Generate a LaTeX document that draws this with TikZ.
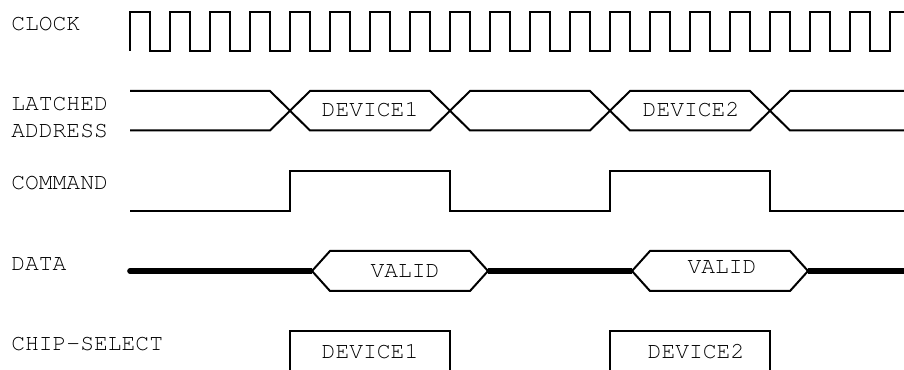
\documentclass[tikz,border=0pt]{standalone}
\usepackage[T1]{fontenc}
\usepackage{courier}
\begin{document}
\begin{tikzpicture}[x=0.75pt,y=-0.75pt,
  sig/.style={line width=1.5pt, line join=miter},
  bus/.style={line width=4.2pt, line cap=butt},
  lbl/.style={font=\fontsize{17.25}{20}\selectfont\ttfamily, inner sep=0pt}]
\useasboundingbox (0,0) rectangle (904,370);
\clip (0,0) rectangle (904,370);
% labels
\node[lbl,anchor=west] (clk) at (11,24) {CLOCK};
\node[lbl,anchor=west] (la1) at (11,103.5) {LATCHED};
\node[lbl,anchor=west] (la2) at (11,130.5) {ADDRESS};
\node[lbl,anchor=west] (cmd) at (11,183) {COMMAND};
\node[lbl,anchor=west] (dat) at (11,264.5) {DATA};
\node[lbl,anchor=west] (cs) at (11,343.5) {CHIP-SELECT};
% clock
\draw[sig] (130,51) \foreach \k in {0,...,19} { -- ++(0,-39) -- ++(20,0) -- ++(0,39) -- ++(20,0) };
% latched address
\draw[sig] (130,91) -- (270,91) -- (310,130.5) -- (430,130.5) -- (470,91) -- (590,91)
  -- (630,130.5) -- (750,130.5) -- (790,91) -- (910,91);
\draw[sig] (130,130.5) -- (270,130.5) -- (310,91) -- (430,91) -- (470,130.5) -- (590,130.5)
  -- (630,91) -- (750,91) -- (790,130.5) -- (910,130.5);
\node[lbl] (ad1) at (370,109) {DEVICE1};
\node[lbl] (ad2) at (691,109) {DEVICE2};
% command
\draw[sig] (130,211) -- (290,211) -- (290,171) -- (450,171) -- (450,211) -- (610,211)
  -- (610,171) -- (770,171) -- (770,211) -- (910,211);
% data
\draw[bus,line cap=round] (130,271) -- (140,271);
\draw[bus] (135,271) -- (312,271);
\draw[bus] (488,271) -- (632,271);
\draw[bus] (808,271) -- (910,271);
\draw[sig] (312,271) -- (330,251) -- (470,251) -- (488,271) -- (470,291) -- (330,291) -- cycle;
\draw[sig] (632,271) -- (650,251) -- (790,251) -- (808,271) -- (790,291) -- (650,291) -- cycle;
\node[lbl] (v1) at (405,271.5) {VALID};
\node[lbl] (v2) at (722,267.5) {VALID};
% chip select
\draw[sig] (290,380) -- (290,331.5) -- (450,331.5) -- (450,380);
\draw[sig] (610,380) -- (610,331.5) -- (770,331.5) -- (770,380);
\node[lbl] (c1) at (370,351.5) {DEVICE1};
\node[lbl] (c2) at (696,351.5) {DEVICE2};
\end{tikzpicture}
\end{document}
